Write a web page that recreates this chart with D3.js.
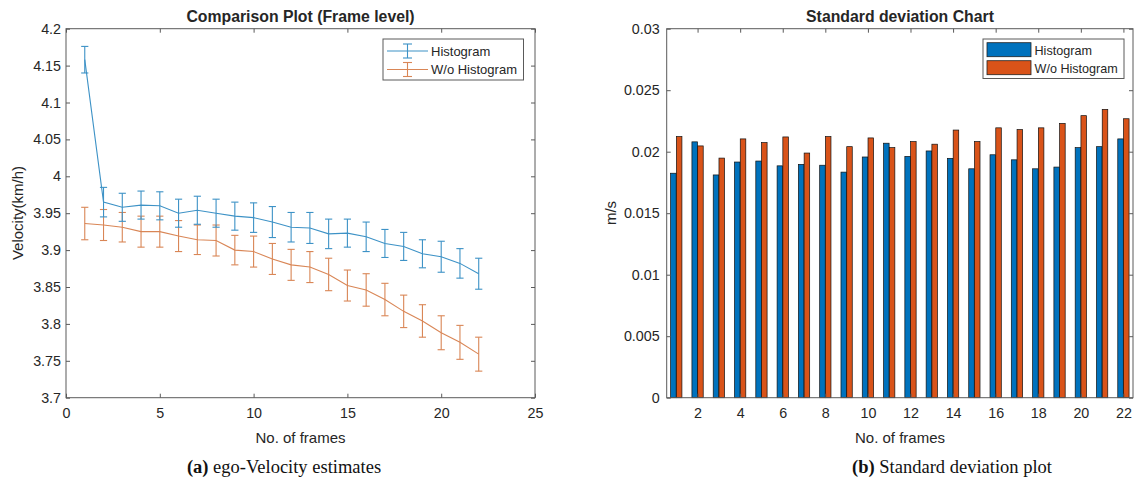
<!DOCTYPE html>
<html>
<head>
<meta charset="utf-8">
<script src="https://cdn.jsdelivr.net/npm/d3@7"></script>
<style>
  html, body { margin: 0; padding: 0; background: #fff; }
  svg { display: block; }
  text { font-family: "Liberation Sans", Arial, Helvetica, sans-serif; fill: #262626; }
  text.caption { font-family: "Liberation Serif", "Times New Roman", serif; fill: #111; }
</style>
</head>
<body>
<svg id="fig" width="1136" height="486"></svg>
<script>
// ---- data -------------------------------------------------------------
const frames = d3.range(1, 23);

// mean ego-velocity per frame (km/h) and error bar half-widths
const histMean = [4.158, 3.965, 3.958, 3.961, 3.960, 3.950, 3.954, 3.950, 3.946, 3.944, 3.938,
                  3.931, 3.930, 3.922, 3.923, 3.918, 3.909, 3.905, 3.895, 3.891, 3.882, 3.868];
const histErr  = [0.018, 0.020, 0.019, 0.019, 0.019, 0.019, 0.019, 0.019, 0.019, 0.020, 0.021,
                  0.020, 0.021, 0.020, 0.019, 0.020, 0.019, 0.019, 0.019, 0.021, 0.020, 0.021];
const noHistMean = [3.936, 3.934, 3.931, 3.925, 3.925, 3.919, 3.914, 3.913, 3.900, 3.898, 3.888,
                    3.880, 3.877, 3.867, 3.852, 3.846, 3.833, 3.817, 3.804, 3.788, 3.775, 3.759];
const noHistErr  = [0.022, 0.021, 0.020, 0.021, 0.021, 0.021, 0.020, 0.021, 0.020, 0.021, 0.021,
                    0.021, 0.021, 0.022, 0.021, 0.022, 0.022, 0.022, 0.022, 0.023, 0.023, 0.023];

// standard deviation per frame (m/s)
const histStd   = [0.01825, 0.02080, 0.01811, 0.01916, 0.01924, 0.01885, 0.01897, 0.01890, 0.01834, 0.01957, 0.02069,
                   0.01962, 0.02006, 0.01946, 0.01861, 0.01975, 0.01934, 0.01861, 0.01875, 0.02033, 0.02041, 0.02104];
const noHistStd = [0.02123, 0.02047, 0.01948, 0.02104, 0.02074, 0.02120, 0.01989, 0.02123, 0.02041, 0.02112, 0.02033,
                   0.02082, 0.02061, 0.02176, 0.02082, 0.02194, 0.02180, 0.02194, 0.02230, 0.02293, 0.02344, 0.02268];

const seriesNames = ["Histogram", "W/o Histogram"];
const leftXTicks  = [0, 5, 10, 15, 20, 25];
const leftYTicks  = [3.7, 3.75, 3.8, 3.85, 3.9, 3.95, 4, 4.05, 4.1, 4.15, 4.2];
const rightXTicks = [2, 4, 6, 8, 10, 12, 14, 16, 18, 20, 22];
const rightYTicks = [0, 0.005, 0.01, 0.015, 0.02, 0.025, 0.03];

// ---- styling ----------------------------------------------------------
const lineColors = ["#3d92c6", "#d98656"];
const barColors  = ["#0072bd", "#d95319"];
const axisColor  = "#5a5a5a";
const tickFont   = 14.3;

const svg = d3.select("#fig");
svg.append("rect").attr("width", 1136).attr("height", 486).attr("fill", "#fff");

function fmt(d) { return String(+d.toFixed(3)); }

// boxed axes with inward ticks on all four sides
function drawFrame(g, x, y, xt, yt, yPad) {
  const [x0, x1] = x.range(), [y0, y1] = y.range();
  g.append("g").attr("transform", `translate(0,${y0})`)
    .call(d3.axisBottom(x).tickValues(xt).tickFormat(fmt).tickSize(-4).tickPadding(10))
    .call(a => a.select(".domain").remove());
  g.append("g").attr("transform", `translate(0,${y1})`)
    .call(d3.axisTop(x).tickValues(xt).tickFormat("").tickSize(-4))
    .call(a => a.select(".domain").remove());
  g.append("g").attr("transform", `translate(${x0},0)`)
    .call(d3.axisLeft(y).tickValues(yt).tickFormat(fmt).tickSize(-4).tickPadding(yPad))
    .call(a => a.select(".domain").remove());
  g.append("g").attr("transform", `translate(${x1},0)`)
    .call(d3.axisRight(y).tickValues(yt).tickFormat("").tickSize(-4))
    .call(a => a.select(".domain").remove());
  g.selectAll(".tick line").attr("stroke", axisColor);
  g.selectAll(".tick text").attr("font-size", tickFont).attr("fill", "#333")
    .attr("font-family", "Liberation Sans, Arial, sans-serif");
  g.append("rect").attr("x", x0).attr("y", y1).attr("width", x1 - x0).attr("height", y0 - y1)
    .attr("fill", "none").attr("stroke", axisColor).attr("stroke-width", 1);
}

// ---- (a) comparison plot ----------------------------------------------
const xL = d3.scaleLinear([0, 25], [66, 535]);
const yL = d3.scaleLinear([3.7, 4.2], [397.7, 28.7]);
const gL = svg.append("g");

const lineSeries = [
  { name: seriesNames[0], mean: histMean, err: histErr, color: lineColors[0] },
  { name: seriesNames[1], mean: noHistMean, err: noHistErr, color: lineColors[1] }
];
const capHalf = 3.6;
const line = d3.line().x((d, i) => xL(frames[i])).y(d => yL(d));

lineSeries.slice().reverse().forEach(s => {
  const g = gL.append("g").attr("stroke", s.color).attr("fill", "none").attr("stroke-width", 1.1);
  g.append("path").attr("d", line(s.mean));
  const eb = g.selectAll("g.eb").data(frames).join("g").attr("class", "eb");
  eb.append("line")
    .attr("x1", f => xL(f)).attr("x2", f => xL(f))
    .attr("y1", (f, i) => yL(s.mean[i] + s.err[i])).attr("y2", (f, i) => yL(s.mean[i] - s.err[i]));
  eb.append("line")
    .attr("x1", f => xL(f) - capHalf).attr("x2", f => xL(f) + capHalf)
    .attr("y1", (f, i) => yL(s.mean[i] + s.err[i])).attr("y2", (f, i) => yL(s.mean[i] + s.err[i]));
  eb.append("line")
    .attr("x1", f => xL(f) - capHalf).attr("x2", f => xL(f) + capHalf)
    .attr("y1", (f, i) => yL(s.mean[i] - s.err[i])).attr("y2", (f, i) => yL(s.mean[i] - s.err[i]));
});

drawFrame(gL, xL, yL, leftXTicks, leftYTicks, 5);

gL.append("text").attr("x", 300.5).attr("y", 21.5).attr("text-anchor", "middle")
  .attr("font-size", 15.8).attr("font-weight", "bold").attr("fill", "#1a1a1a")
  .text("Comparison Plot (Frame level)");
gL.append("text").attr("x", 300.5).attr("y", 443).attr("text-anchor", "middle")
  .attr("font-size", 15).attr("fill", "#333").text("No. of frames");
gL.append("text").attr("transform", "translate(23,213) rotate(-90)").attr("text-anchor", "middle")
  .attr("font-size", 15).attr("fill", "#333").text("Velocity(km/h)");

// legend with error-bar glyphs
const legL = gL.append("g");
legL.append("rect").attr("x", 383).attr("y", 39).attr("width", 140.5).attr("height", 41)
  .attr("fill", "#fff").attr("stroke", axisColor).attr("stroke-width", 1);
lineSeries.forEach((s, i) => {
  const cy = 51 + i * 18.5;
  const lg = legL.append("g").attr("stroke", s.color).attr("stroke-width", 1.1);
  lg.append("line").attr("x1", 387).attr("x2", 428).attr("y1", cy).attr("y2", cy);
  lg.append("line").attr("x1", 407.5).attr("x2", 407.5).attr("y1", cy - 7).attr("y2", cy + 7);
  lg.append("line").attr("x1", 403).attr("x2", 412).attr("y1", cy - 7).attr("y2", cy - 7);
  lg.append("line").attr("x1", 403).attr("x2", 412).attr("y1", cy + 7).attr("y2", cy + 7);
  legL.append("text").attr("x", 431).attr("y", cy + 4.8).attr("font-size", 13).attr("fill", "#262626")
    .text(s.name);
});

// ---- (b) standard deviation bars ----------------------------------------
const xR = d3.scaleLinear([0.55, 22.45], [666.7, 1133]);
const yR = d3.scaleLinear([0, 0.03], [397.7, 28.7]);
const gR = svg.append("g");

const barSeries = [
  { name: seriesNames[0], vals: histStd, color: barColors[0], off: -0.135 },
  { name: seriesNames[1], vals: noHistStd, color: barColors[1], off: 0.135 }
];
const barW = 0.26;
barSeries.forEach(s => {
  gR.append("g").selectAll("rect").data(frames).join("rect")
    .attr("x", f => xR(f + s.off - barW / 2))
    .attr("width", xR(barW) - xR(0))
    .attr("y", (f, i) => yR(s.vals[i]))
    .attr("height", (f, i) => yR(0) - yR(s.vals[i]))
    .attr("fill", s.color).attr("stroke", "#111").attr("stroke-width", 0.7);
});

drawFrame(gR, xR, yR, rightXTicks, rightYTicks, 7);

gR.append("text").attr("x", 900).attr("y", 21.5).attr("text-anchor", "middle")
  .attr("font-size", 15.8).attr("font-weight", "bold").attr("fill", "#1a1a1a")
  .text("Standard deviation Chart");
gR.append("text").attr("x", 900).attr("y", 443).attr("text-anchor", "middle")
  .attr("font-size", 15).attr("fill", "#333").text("No. of frames");
gR.append("text").attr("transform", "translate(616,213) rotate(-90)").attr("text-anchor", "middle")
  .attr("font-size", 15).attr("fill", "#333").text("m/s");

const legR = gR.append("g");
legR.append("rect").attr("x", 983).attr("y", 39).attr("width", 141).attr("height", 39.5)
  .attr("fill", "#fff").attr("stroke", axisColor).attr("stroke-width", 1);
barSeries.forEach((s, i) => {
  const top = 42.7 + i * 18;
  legR.append("rect").attr("x", 987).attr("y", top).attr("width", 44).attr("height", 14)
    .attr("fill", s.color).attr("stroke", "#222").attr("stroke-width", 0.8);
  legR.append("text").attr("x", 1034.5).attr("y", top + 12).attr("font-size", 12.6).attr("fill", "#262626")
    .text(s.name);
});

// ---- sub-figure captions -----------------------------------------------
function caption(x, label, rest) {
  const t = svg.append("text").attr("class", "caption").attr("x", x).attr("y", 473)
    .attr("text-anchor", "middle").attr("font-size", 18.5);
  t.append("tspan").attr("font-weight", "bold").text(label);
  t.append("tspan").text(" " + rest);
}
caption(284, "(a)", "ego-Velocity estimates");
caption(952, "(b)", "Standard deviation plot");
</script>
</body>
</html>
